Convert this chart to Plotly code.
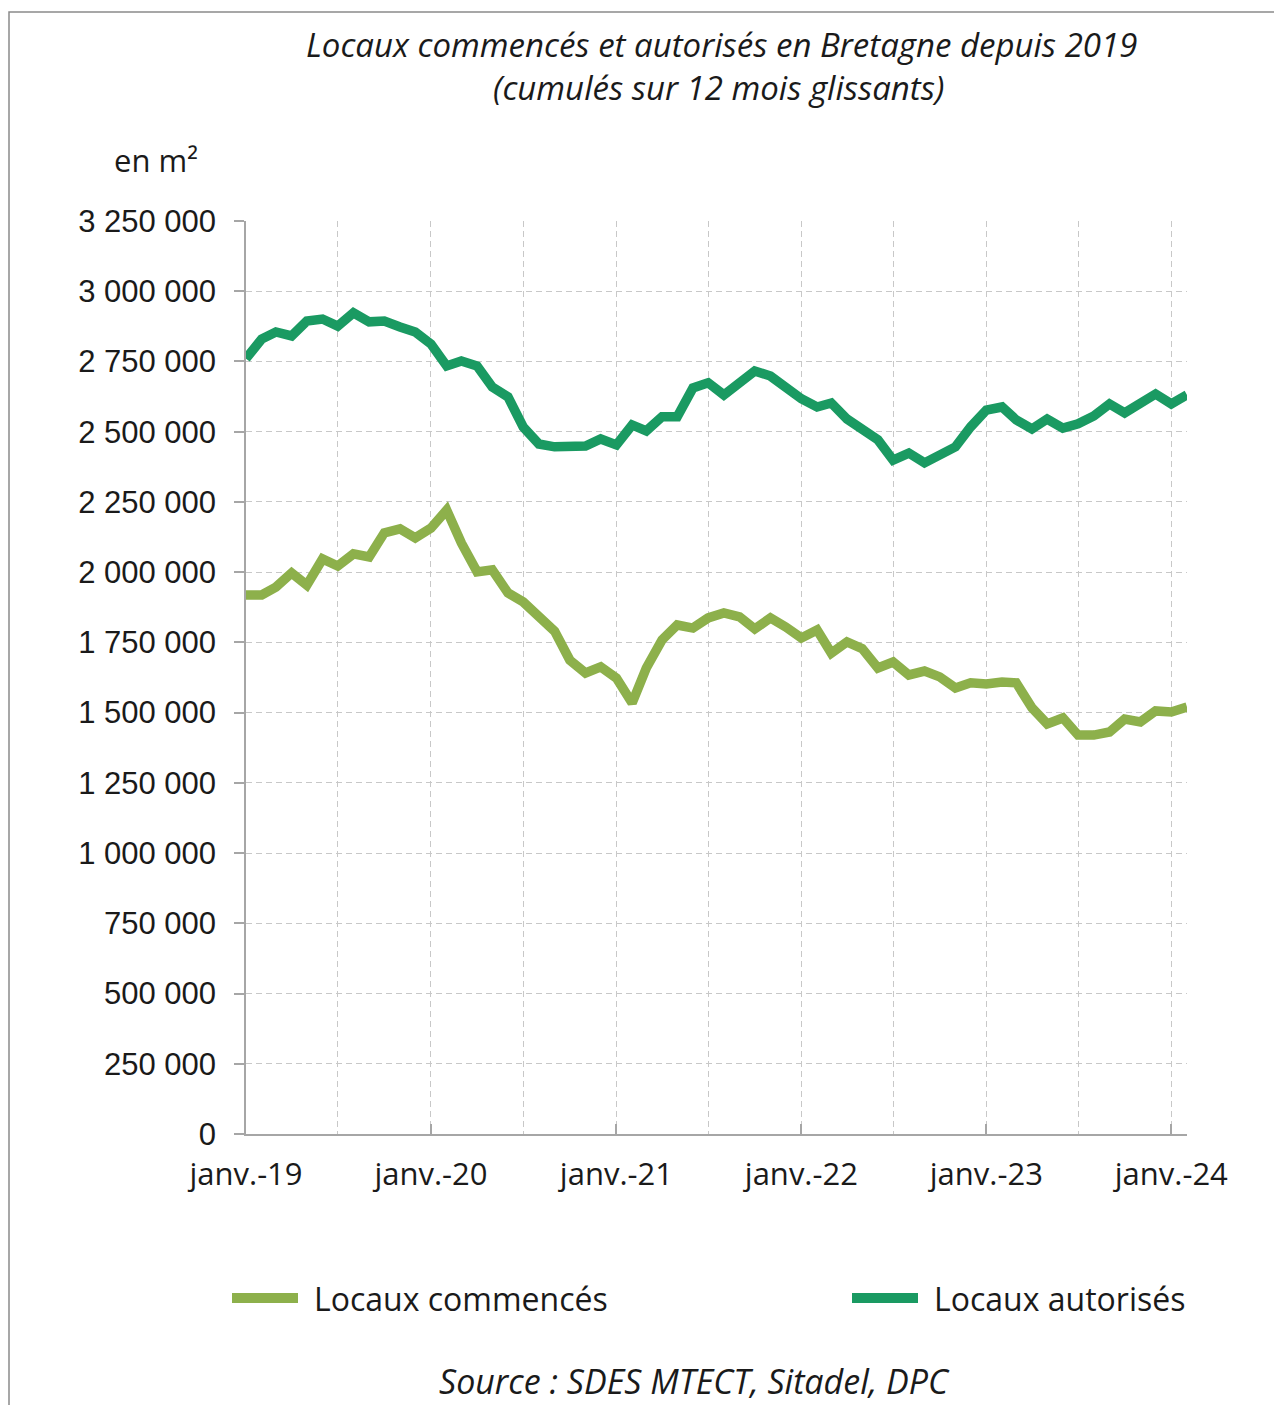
import pandas as pd
import plotly.graph_objects as go

# ---------------------------------------------------------------------------
# Data (monthly, janv. 2019 -> févr. 2024)
# ---------------------------------------------------------------------------

months = pd.date_range("2019-01-01", periods=62, freq="MS")

locaux_commences = [
    1919000, 1919000, 1947000, 1997000, 1954000, 2047000, 2022000, 2065000,
    2054000, 2140000, 2154000, 2122000, 2157000, 2221000, 2104000, 2001000,
    2008000, 1926000, 1894000, 1837000, 1790000, 1687000, 1641000, 1663000,
    1623000, 1534000, 1659000, 1759000, 1812000, 1801000, 1837000, 1855000,
    1841000, 1798000, 1837000, 1805000, 1766000, 1794000, 1712000, 1752000,
    1728000, 1659000, 1680000, 1634000, 1648000, 1627000, 1588000, 1606000,
    1602000, 1609000, 1606000, 1517000, 1460000, 1481000, 1420000, 1420000,
    1431000, 1477000, 1467000, 1506000, 1502000, 1520000,
]

locaux_autorises = [
    2760000, 2830000, 2855000, 2841000, 2894000, 2901000, 2876000, 2923000,
    2891000, 2894000, 2873000, 2855000, 2812000, 2734000, 2752000, 2734000,
    2659000, 2624000, 2517000, 2456000, 2446000, 2446000, 2449000, 2474000,
    2453000, 2524000, 2503000, 2553000, 2553000, 2656000, 2674000, 2631000,
    2677000, 2716000, 2698000, 2659000, 2617000, 2588000, 2602000, 2545000,
    2513000, 2471000, 2399000, 2424000, 2389000, 2417000, 2446000, 2517000,
    2577000, 2588000, 2542000, 2510000, 2545000, 2513000, 2528000, 2556000,
    2599000, 2567000, 2602000, 2634000, 2599000, 2631000,
]

year_ticks = ["2019-01-01", "2020-01-01", "2021-01-01",
              "2022-01-01", "2023-01-01", "2024-01-01"]
year_labels = ["janv.-19", "janv.-20", "janv.-21",
               "janv.-22", "janv.-23", "janv.-24"]

series_names = ["Locaux commencés", "Locaux autorisés"]

# ---------------------------------------------------------------------------
# Styling
# ---------------------------------------------------------------------------

OFF = 8                      # page body margin, the figure starts 8px in
W, H = 1282 - OFF, 1405 - OFF
L, R, T, B = 246 - OFF, 1187 - OFF, 221 - OFF, 1134 - OFF   # plot area (figure px)

COL_COMM = "#8DB04B"
COL_AUT = "#1A9A62"
GRID = "#c8c8c8"
AXIS = "#a6a6a6"
INK = "#1a1a1a"
TEXT_FONT = "'Open Sans', Lato, sans-serif"
NUM_FONT = "'Liberation Sans', Arial, sans-serif"


def px_x(px):
    """page pixel -> paper x"""
    return (px - OFF - L) / (R - L)


def px_y(py):
    """page pixel -> paper y"""
    return (B - (py - OFF)) / (B - T)


fig = go.Figure()
fig.add_trace(go.Scatter(
    x=months, y=locaux_commences, mode="lines", name=series_names[0],
    line=dict(color=COL_COMM, width=9.5), showlegend=False,
))
fig.add_trace(go.Scatter(
    x=months, y=locaux_autorises, mode="lines", name=series_names[1],
    line=dict(color=COL_AUT, width=9.5), showlegend=False,
))

# frame around the whole picture
fig.add_shape(type="rect", xref="paper", yref="paper",
              x0=px_x(9), x1=px_x(1300), y0=px_y(1420), y1=px_y(12),
              line=dict(color="#8a8a8a", width=1.5), layer="below")

# hand-made legend (long thick line samples)
legend_items = [(232, 298, 312, COL_COMM), (852, 918, 932, COL_AUT)]
for (lx0, lx1, tx, col), name in zip(legend_items, series_names):
    fig.add_shape(type="line", xref="paper", yref="paper",
                  x0=px_x(lx0), x1=px_x(lx1), y0=px_y(1298), y1=px_y(1298),
                  line=dict(color=col, width=10))
    fig.add_annotation(x=px_x(tx), y=px_y(1298), xref="paper", yref="paper",
                       text=name, showarrow=False, xanchor="left", yanchor="middle",
                       font=dict(family=TEXT_FONT, size=32, color=INK))

# title, unit, source
fig.add_annotation(x=px_x(721), y=px_y(44), xref="paper", yref="paper",
                   text="<i>Locaux commencés et autorisés en Bretagne depuis 2019</i>",
                   showarrow=False, xanchor="center", yanchor="middle",
                   font=dict(family=TEXT_FONT, size=33, color=INK))
fig.add_annotation(x=px_x(718), y=px_y(88), xref="paper", yref="paper",
                   text="<i>(cumulés sur 12 mois glissants)</i>",
                   showarrow=False, xanchor="center", yanchor="middle",
                   font=dict(family=TEXT_FONT, size=33, color=INK))
fig.add_annotation(x=px_x(112), y=px_y(160), xref="paper", yref="paper",
                   text="en m²", showarrow=False, xanchor="left", yanchor="middle",
                   font=dict(family=TEXT_FONT, size=31, color=INK))
fig.add_annotation(x=px_x(694), y=px_y(1381), xref="paper", yref="paper",
                   text="<i>Source : SDES MTECT, Sitadel, DPC</i>",
                   showarrow=False, xanchor="center", yanchor="middle",
                   font=dict(family=TEXT_FONT, size=34, color=INK))

fig.update_layout(
    width=W, height=H,
    margin=dict(l=L, r=W - R, t=T, b=H - B),
    paper_bgcolor="white", plot_bgcolor="white",
    separators=", ",
    showlegend=False,
    xaxis=dict(
        type="date",
        range=[months[0], months[-1]],
        tickmode="array", tickvals=year_ticks, ticktext=year_labels,
        ticks="inside", ticklen=10, tickcolor=AXIS, tickwidth=1.5,
        showline=True, linecolor=AXIS, linewidth=1.5,
        showgrid=True, gridcolor=GRID, griddash="6px,4px", gridwidth=1.3,
        minor=dict(dtick="M6", tick0="2019-07-01", showgrid=True,
                   gridcolor=GRID, griddash="6px,4px", gridwidth=1.3),
        tickfont=dict(family=TEXT_FONT, size=31, color=INK),
        ticklabelstandoff=12,
        zeroline=False,
    ),
    yaxis=dict(
        range=[0, 3250000], dtick=250000, tickformat=",d",
        ticks="outside", ticklen=10, tickcolor=AXIS, tickwidth=1.5,
        showline=True, linecolor=AXIS, linewidth=1.5,
        showgrid=True, gridcolor=GRID, griddash="6px,4px", gridwidth=1.3,
        tickfont=dict(family=NUM_FONT, size=31, color=INK),
        ticklabelstandoff=12,
        zeroline=False,
    ),
)

fig.write_html("out.html")
